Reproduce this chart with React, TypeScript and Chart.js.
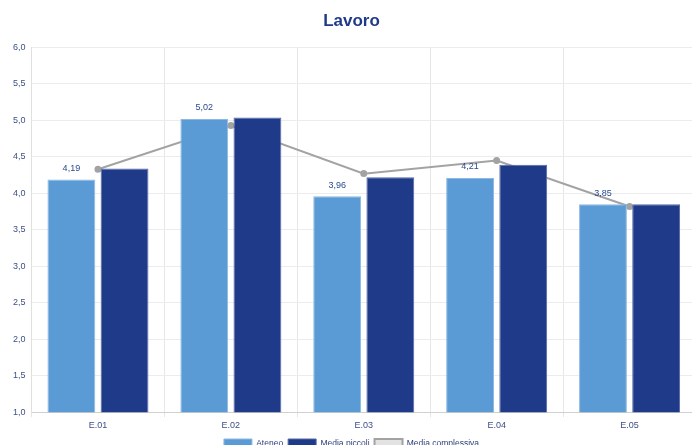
import React, { useEffect, useRef } from "react";
import { Chart, registerables } from "chart.js";

Chart.register(...registerables);

const categories = ["E.01", "E.02", "E.03", "E.04", "E.05"];
const ateneo = [4.19, 5.02, 3.96, 4.21, 3.85];
const mediaPiccoli = [4.34, 5.04, 4.22, 4.39, 3.85];
const mediaComplessiva = [4.33, 4.93, 4.27, 4.45, 3.82];
const seriesNames = ["Ateneo", "Media piccoli", "Media complessiva"];

const W = 708;
const H = 459;

const fmt = (v: number, d: number) => v.toFixed(d).replace(".", ",");

const barLabels = {
  id: "barLabels",
  afterDatasetsDraw(chart: any) {
    const ctx = chart.ctx;
    const meta = chart.getDatasetMeta(0);
    ctx.save();
    ctx.font = "9px 'Liberation Sans', Arial, sans-serif";
    ctx.fillStyle = "#2b4a8f";
    ctx.textAlign = "center";
    ctx.textBaseline = "middle";
    meta.data.forEach((el: any, i: number) => {
      ctx.fillText(fmt(ateneo[i], 2), el.x, el.y - 11);
    });
    ctx.restore();
  },
};

export default function App() {
  const ref = useRef<HTMLCanvasElement | null>(null);
  useEffect(() => {
    if (!ref.current) return;
    const font = "'Liberation Sans', Arial, sans-serif";
    const chart = new Chart(ref.current, {
      type: "bar",
      data: {
        labels: categories,
        datasets: [
          {
            type: "bar",
            label: seriesNames[0],
            data: ateneo,
            backgroundColor: "#5B9BD5",
            borderColor: "#8DB8E4",
            borderWidth: 1,
            order: 1,
          },
          {
            type: "bar",
            label: seriesNames[1],
            data: mediaPiccoli,
            backgroundColor: "#1F3A89",
            borderColor: "#5468A8",
            borderWidth: 1,
            order: 1,
          },
          {
            type: "line",
            label: seriesNames[2],
            data: mediaComplessiva,
            borderColor: "#A3A3A3",
            backgroundColor: "#E2E2E2",
            borderWidth: 2,
            pointRadius: 2.5,
            pointBackgroundColor: "#A3A3A3",
            pointBorderColor: "#A3A3A3",
            order: 2,
          } as any,
        ],
      },
      options: {
        animation: false,
        responsive: false,
        maintainAspectRatio: false,
        layout: { padding: { left: 7, right: 12, top: 8, bottom: 0 } },
        plugins: {
          title: {
            display: true,
            text: "Lavoro",
            color: "#1F3A89",
            font: { family: font, size: 17, weight: "bold" },
            padding: { top: 3, bottom: 16 },
          },
          legend: {
            position: "bottom",
            labels: {
              boxWidth: 28,
              boxHeight: 10,
              color: "#2b3d7a",
              font: { family: font, size: 8.5 },
              padding: 5,
            },
          },
          tooltip: { enabled: false },
        },
        scales: {
          x: {
            grid: { color: "#E6E6E6", tickLength: 5, drawTicks: true },
            border: { color: "#D0D0D0" },
            ticks: { color: "#3d4f85", font: { family: font, size: 9 }, padding: 3 },
          },
          y: {
            min: 1,
            max: 6,
            grid: { color: "#ECECEC", drawTicks: false },
            border: { color: "#E0E0E0" },
            ticks: {
              stepSize: 0.5,
              color: "#3d4f85",
              font: { family: font, size: 9 },
              padding: 6,
              callback: (v: any) => fmt(Number(v), 1),
            },
          },
        },
      },
      plugins: [barLabels],
    });
    return () => chart.destroy();
  }, []);
  return (
    <div style={{ position: "fixed", left: 0, top: 0, width: W, height: H, background: "#fff" }}>
      <canvas ref={ref} width={W} height={H} style={{ width: W, height: H }} />
    </div>
  );
}
